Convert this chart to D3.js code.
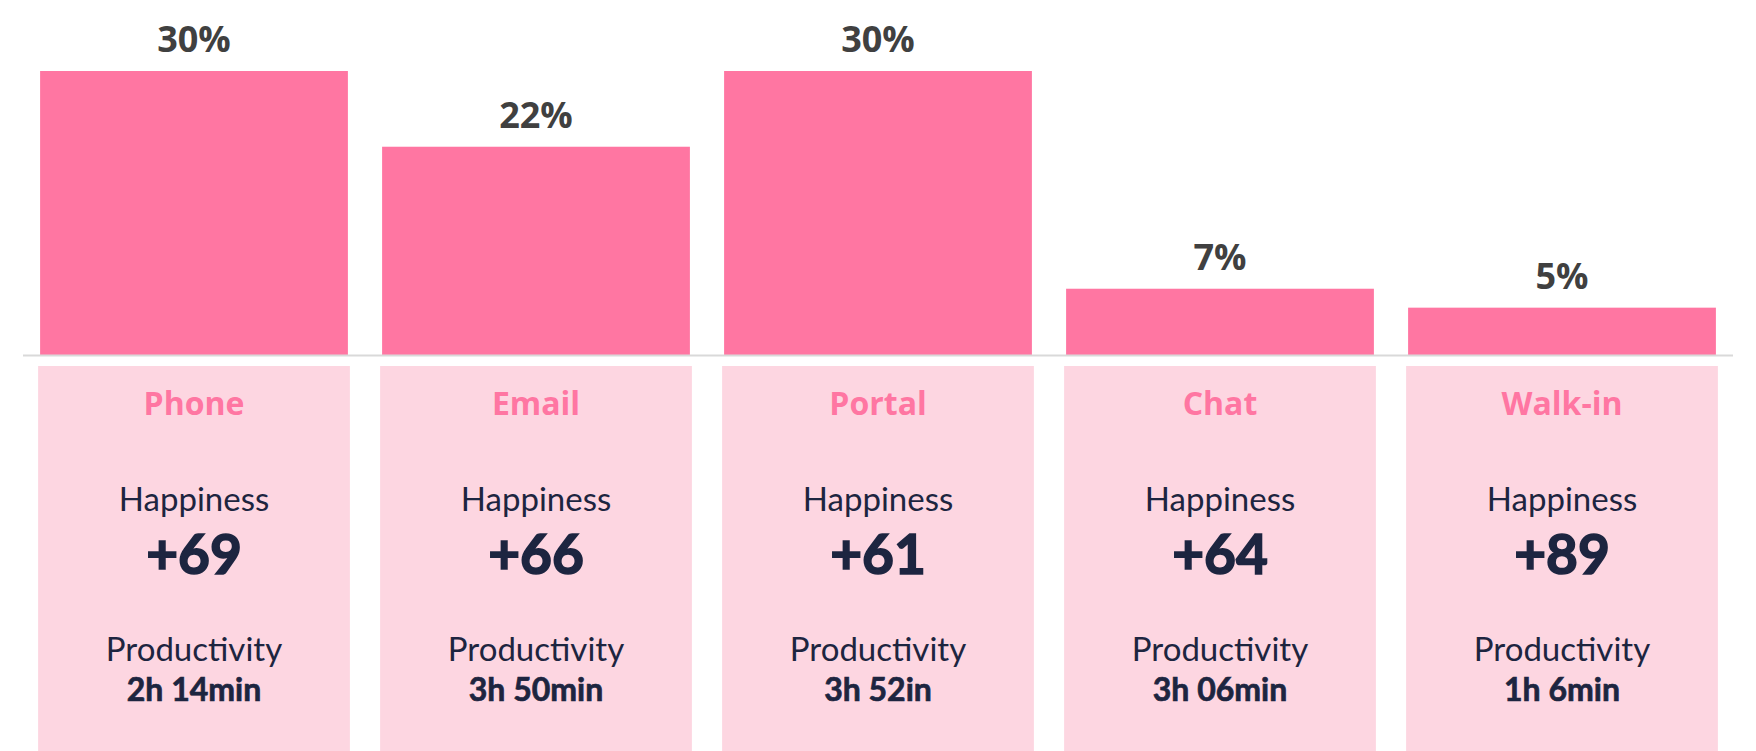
<!DOCTYPE html>
<html>
<head>
<meta charset="utf-8">
<script src="https://cdn.jsdelivr.net/npm/d3@7"></script>
<style>
  html, body { margin: 0; padding: 0; background: #fff; }
  svg { display: block; }
</style>
</head>
<body>
<script>
// data
const channels = ['Phone', 'Email', 'Portal', 'Chat', 'Walk-in']
const shares = [30, 22, 30, 7, 5]
const happiness = ['+69', '+66', '+61', '+64', '+89']
const productivity = ['2h 14min', '3h 50min', '3h 52in', '3h 06min', '1h 6min']

const width = 1756, height = 751
const baseY = 355

const svg = d3.select('body').append('svg')
    .attr('width', width).attr('height', height)

let x = d3.scaleBand().domain(channels).range([23, 1733])
    .paddingInner(0.1).paddingOuter(0.05)
let y = d3.scaleLinear().domain([0, 30]).range([baseY, 71])

// bars
svg.append('g').selectAll('rect').data(shares).enter().append('rect')
    .attr('x', (d, i) => x(channels[i]))
    .attr('y', d => y(d))
    .attr('width', x.bandwidth())
    .attr('height', d => baseY - y(d))
    .attr('fill', '#ff76a2')

// bar labels
svg.append('g').selectAll('text').data(shares).enter().append('text')
    .attr('x', (d, i) => x(channels[i]) + x.bandwidth() / 2)
    .attr('y', d => y(d) - 19)
    .attr('text-anchor', 'middle')
    .style('font-family', '"Open Sans", sans-serif')
    .style('font-weight', 700)
    .style('font-size', '36px')
    .attr('fill', '#404040')
    .text(d => d + '%')

// baseline
svg.append('line')
    .attr('x1', 23).attr('x2', 1733)
    .attr('y1', baseY + 0.5).attr('y2', baseY + 0.5)
    .attr('stroke', '#d9d9d9').attr('stroke-width', 2)

// panels under the bars
let panels = svg.append('g').selectAll('g').data(channels).enter().append('g')
    .attr('transform', d => `translate(${x(d) + x.bandwidth() / 2},0)`)

panels.append('rect')
    .attr('x', -x.bandwidth() / 2 - 2)
    .attr('y', 366)
    .attr('width', x.bandwidth() + 4)
    .attr('height', height - 366)
    .attr('fill', '#fdd6e1')

let addText = (sel, yPos, txt, size, weight, color, family) => sel.append('text')
    .attr('y', yPos)
    .attr('text-anchor', 'middle')
    .style('font-family', family)
    .style('font-size', size + 'px')
    .style('font-weight', weight)
    .attr('fill', color)
    .text(txt)

addText(panels, 415, d => d, 32, 700, '#ff76a2', '"Open Sans", sans-serif')
addText(panels, 511, 'Happiness', 33, 400, '#1d2540', 'Lato, sans-serif')
// heavier look for the numbers
addText(panels, 574, (d, i) => happiness[i], 55, 700, '#1d2540', 'Lato, sans-serif')
    .attr('stroke', '#1d2540').attr('stroke-width', 1.6)
addText(panels, 661, 'Productivity', 33, 400, '#1d2540', 'Lato, sans-serif')
addText(panels, 701, (d, i) => productivity[i], 32, 700, '#1d2540', 'Lato, sans-serif')
    .attr('stroke', '#1d2540').attr('stroke-width', 0.7)
</script>
</body>
</html>
